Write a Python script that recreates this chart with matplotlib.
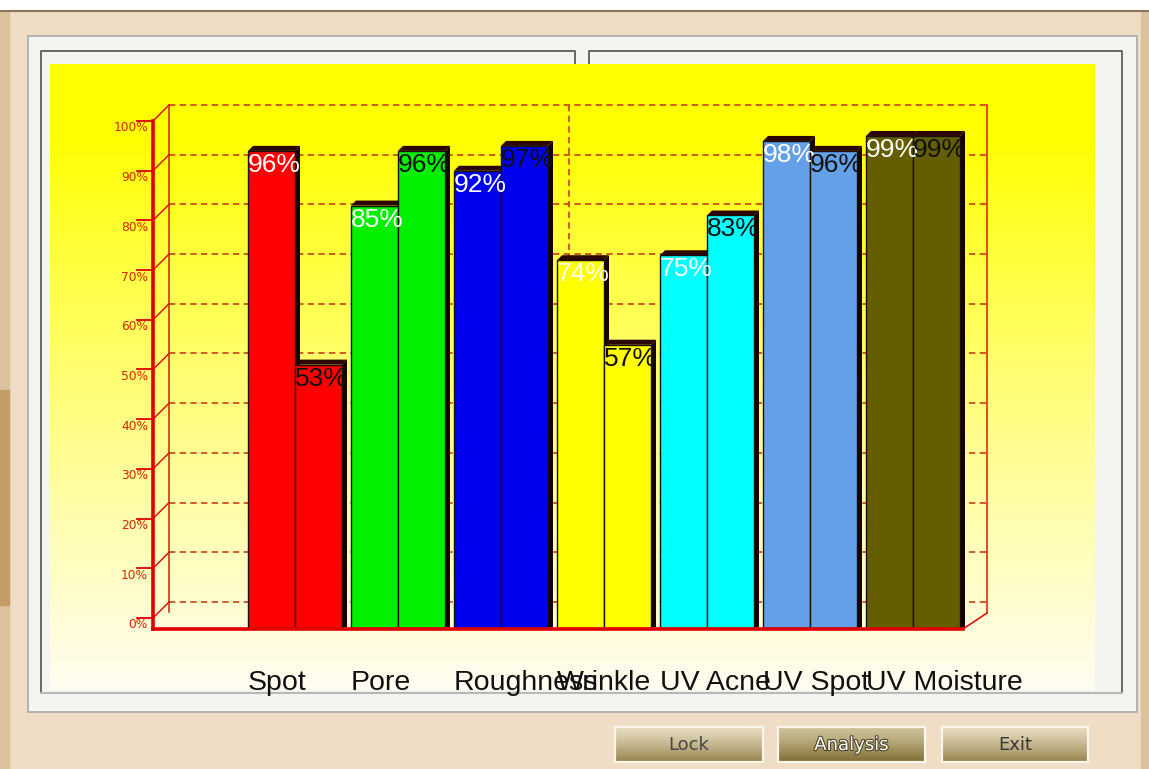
import numpy as np
import matplotlib
matplotlib.use('Agg')
import matplotlib.pyplot as plt
from matplotlib.patches import Rectangle, Polygon
import matplotlib.patheffects as pe

# ---------------- data ----------------
categories = ['Spot', 'Pore', 'Roughness', 'Wrinkle', 'UV Acne', 'UV Spot', 'UV Moisture']
series_a = [96, 85, 92, 74, 75, 98, 99]
series_b = [53, 96, 97, 57, 83, 96, 99]
bar_colors = ['#FF0000', '#00F000', '#0000F0', '#FFFF00', '#00FFFF', '#64A0E8', '#645E00']
y_ticks = [0, 10, 20, 30, 40, 50, 60, 70, 80, 90, 100]
y_tick_labels = ['0%', '10%', '20%', '30%', '40%', '50%', '60%', '70%', '80%', '90%', '100%']
buttons = ['Lock', 'Analysis', 'Exit']

# ---------------- layout ----------------
W, H = 1149, 769
fig = plt.figure(figsize=(W / 100, H / 100), dpi=100)

bg = fig.add_axes([0, 0, 1, 1])
bg.set_xlim(0, W)
bg.set_ylim(H, 0)
bg.axis('off')

# window background
bg.add_patch(Rectangle((0, 0), W, H, color='#EFDDC6', zorder=0))
bg.add_patch(Rectangle((0, 0), W, 10, color='white', zorder=1))
bg.plot([0, W], [10.5, 10.5], color='#8C7458', lw=1.5, zorder=2)
bg.add_patch(Rectangle((0, 11), 9, H, color='#DCC29C', zorder=1))
bg.add_patch(Rectangle((0, 390), 9, 215, color='#C49C66', zorder=1))
bg.add_patch(Rectangle((1141, 11), 8, H, color='#DCC29C', zorder=1))

# outer panel
bg.add_patch(Rectangle((28, 36), 1137 - 28, 712 - 36, fc='#F4F4F0', ec='#A8A8A8', lw=1.2, zorder=2))
# inner frames
fc = '#505050'
bg.plot([41, 41, 575, 575], [693, 51, 51, 64], color=fc, lw=1.2, zorder=3)
bg.plot([589, 589, 1122, 1122], [64, 51, 51, 693], color=fc, lw=1.2, zorder=3)
bg.plot([41, 1122], [693, 693], color='#B8B8B8', lw=1.5, zorder=3)

# buttons
btn_boxes = [(615, 763), (778, 925), (942, 1088)]
btn_grad = [((228, 218, 188), (150, 130, 76)),
            ((205, 194, 152), (128, 108, 52)),
            ((228, 218, 188), (150, 130, 76))]
btn_text_col = ['#454545', 'white', '#353535']
for (x0, x1), lab, (c0, c1), tc in zip(btn_boxes, buttons, btn_grad, btn_text_col):
    t = np.linspace(0, 1, 40)[:, None, None]
    c0a = np.array(c0)[None, None, :] / 255
    c1a = np.array(c1)[None, None, :] / 255
    img = c0a + (c1a - c0a) * t ** 1.3
    bg.imshow(img, extent=[x0, x1, 762, 727], aspect='auto', zorder=3)
    bg.add_patch(Rectangle((x0, 727), x1 - x0, 35, fill=False, ec='#FAF6EE', lw=1.6, zorder=4))
    txt = bg.text((x0 + x1) / 2, 745, lab, ha='center', va='center', fontsize=13,
                  family='DejaVu Sans', color=tc, zorder=5)
    if lab == 'Analysis':
        txt.set_path_effects([pe.withStroke(linewidth=1.5, foreground='#4A4020')])
bg.set_xlim(0, W)
bg.set_ylim(H, 0)

# ---------------- chart axes (yellow panel) ----------------
PX0, PX1, PY0, PY1 = 50, 1095, 64, 690
ax = fig.add_axes([PX0 / W, 1 - PY1 / H, (PX1 - PX0) / W, (PY1 - PY0) / H])
GX0, GDX = 295.0, 103.0        # pixel x of the first group's centre, group spacing
BASE, PPP = 628.0, 4.97        # pixel y of 0 %, pixels per percent


def fx(p):
    return (p - GX0) / GDX


def fy(p):
    return (BASE - p) / PPP


ax.set_xlim(fx(PX0), fx(PX1))
ax.set_ylim(fy(PY1), fy(PY0))
ax.axis('off')

# gradient background
n = 300
yy = np.linspace(0, 1, n)[:, None]          # 0 top -> 1 bottom
tt = np.clip((yy - 0.12) / 0.88, 0, 1)
blue = 0.95 * tt ** 0.9
grad = np.dstack([np.ones_like(yy), np.ones_like(yy) * (1 - 0.01 * tt), blue])
ax.imshow(grad, extent=[fx(PX0), fx(PX1), fy(PY1), fy(PY0)], aspect='auto', zorder=0)

red = '#E00000'
gridc = '#C8401A'
front_off = fy(618)
back_off = fy(602)
xf, xb, xr_b, xr_f = fx(153), fx(169), fx(987), fx(963)

# back wall grid
for t in y_ticks:
    ax.plot([xb, xr_b], [t + back_off, t + back_off], color=gridc, lw=1.2,
            ls=(0, (3.8, 2.6)), zorder=1)
    ax.plot([xf, xb], [t + front_off, t + back_off], color=red, lw=1, zorder=2)
    ax.plot([fx(137), xf], [t + front_off, t + front_off], color=red, lw=1.3, zorder=2)
for t, lab in zip(y_ticks, y_tick_labels):
    ax.text(fx(148), t + front_off - 7 / PPP, lab, ha='right', va='center',
            fontsize=8.8, color='#D02800', family='DejaVu Sans', zorder=2)
ax.plot([fx(569), fx(569)], [back_off, 100 + back_off], color=gridc, lw=1.2,
        ls=(0, (3.8, 2.6)), zorder=1)
ax.plot([xb, xb], [fy(612), 100 + back_off], color='#D02000', lw=1.1, zorder=2)
ax.plot([xr_b, xr_b], [fy(613), 100 + back_off], color='#D02000', lw=1.1, zorder=2)
ax.plot([xf, xf], [fy(629), 100 + front_off], color=red, lw=2.6, zorder=2)
ax.plot([xf, xr_f], [fy(629), fy(629)], color=red, lw=2.6, zorder=8)
ax.plot([xr_f, xr_b], [fy(629), fy(613)], color=red, lw=1.1, zorder=8)

# bars with 3D top and side
w = 47 / GDX
ddx, ddy = 5 / GDX, 5 / PPP
x = np.arange(len(categories))
shade_top, shade_side = '#2C0600', '#160200'


def bar3d(xc, vals, z):
    for xi, v in zip(xc, vals):
        xl, xr = xi - w / 2, xi + w / 2
        ax.add_patch(Polygon([(xr, 0), (xr, v), (xr + ddx, v + ddy), (xr + ddx, ddy * 0.2)],
                             closed=True, fc=shade_side, ec='none', zorder=z))
        ax.add_patch(Polygon([(xl, v), (xl + ddx, v + ddy), (xr + ddx, v + ddy), (xr, v)],
                             closed=True, fc=shade_top, ec='none', zorder=z))
    ax.bar(xc, vals, width=w, color=bar_colors, edgecolor='#181008', lw=1, zorder=z + 0.5)


bar3d(x - w / 2, series_a, 3)
bar3d(x + w / 2, series_b, 5)

for i, (a, b) in enumerate(zip(series_a, series_b)):
    ax.text(i - w, a - 2 / PPP, f'{a}%', ha='left', va='top', fontsize=19,
            family='Liberation Sans', color='white', zorder=7)
    ax.text(i, b - 2 / PPP, f'{b}%', ha='left', va='top', fontsize=19,
            family='Liberation Sans', color='#101010', zorder=7)
    ax.text(i - w, fy(690), categories[i], ha='left', va='baseline', fontsize=20.5,
            family='Liberation Sans', color='#101010', zorder=7)

fig.savefig('out.png', dpi=100)
